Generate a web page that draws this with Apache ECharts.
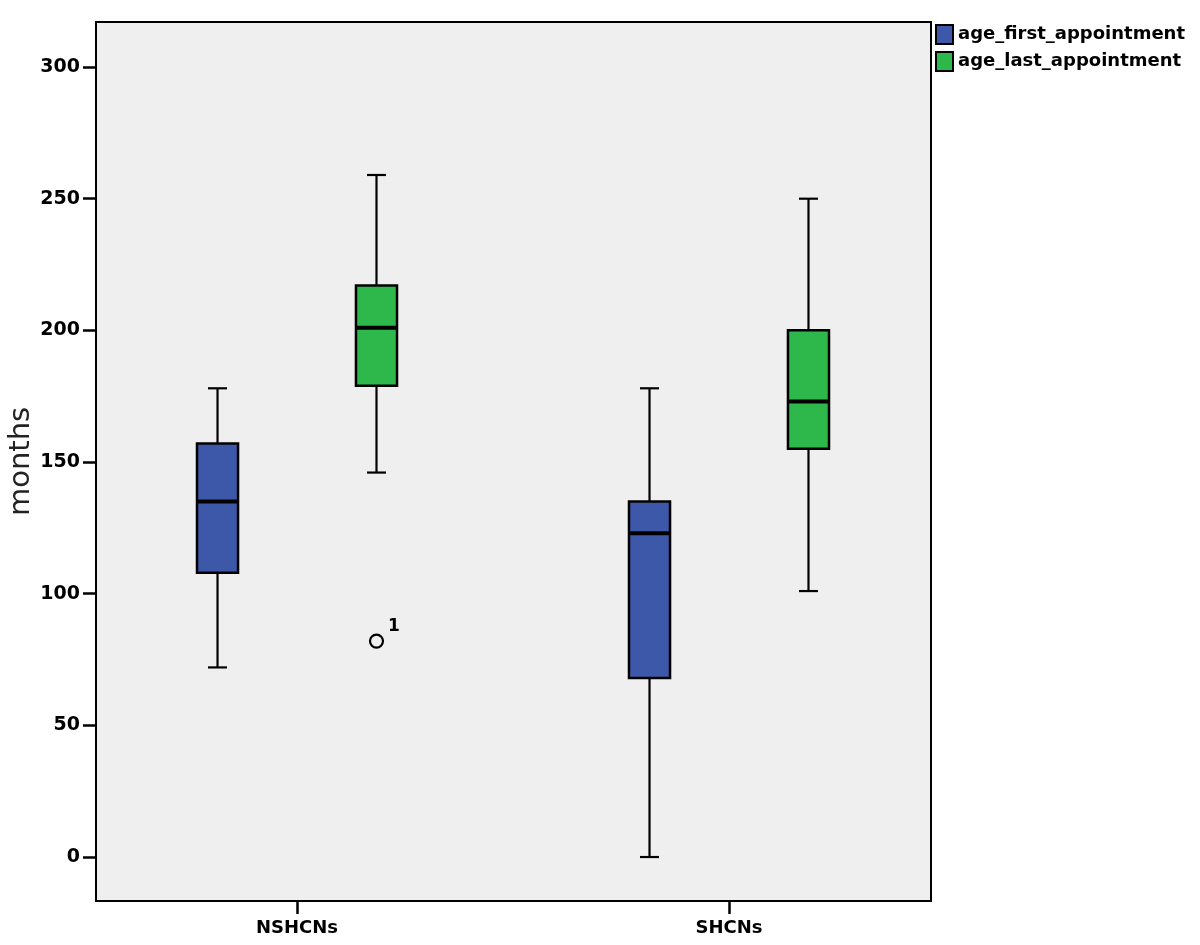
<!DOCTYPE html>
<html><head><meta charset="utf-8">
<script src="https://cdn.jsdelivr.net/npm/echarts@6/dist/echarts.min.js"></script>
<style>html,body{margin:0;padding:0;background:#fff}#chart{width:1200px;height:945px}</style>
</head><body><div id="chart"></div>
<script>
const categories = ['NSHCNs', 'SHCNs'];
const seriesNames = ['age_first_appointment', 'age_last_appointment'];
// [lower whisker, Q1, median, Q3, upper whisker] per category
const firstAppointment = [[72, 108, 135, 157, 178], [0, 68, 123, 135, 178]];
const lastAppointment = [[146, 179, 201, 217, 259], [101, 155, 173, 200, 250]];
// [category index, series index, value, case label]
const outliers = [[0, 1, 82, '1']];
const yTicks = [0, 50, 100, 150, 200, 250, 300];
const yAxisName = 'months';

const colors = ['#3E58A9', '#2EB84B'];
const SERIES_OFFSET = [-0.184, 0.184];
const BOX_HALF = 0.0475;
const CAP_HALF = 0.022;
const FONT = 'DejaVu Sans';

function makeRender(offset, color) {
  return function (params, api) {
    const x = api.value(0) + offset;
    const lo = api.value(1), q1 = api.value(2), med = api.value(3), q3 = api.value(4), hi = api.value(5);
    const tl = api.coord([x - BOX_HALF, q3]);
    const br = api.coord([x + BOX_HALF, q1]);
    const pMed = api.coord([x, med]);
    const pLo = api.coord([x, lo]);
    const pHi = api.coord([x, hi]);
    const capL = api.coord([x - CAP_HALF, lo])[0];
    const capR = api.coord([x + CAP_HALF, lo])[0];
    const ls = { stroke: '#000', lineWidth: 2.2 };
    return {
      type: 'group',
      children: [
        { type: 'line', shape: { x1: pMed[0], y1: pHi[1], x2: pMed[0], y2: tl[1] }, style: ls },
        { type: 'line', shape: { x1: pMed[0], y1: br[1], x2: pMed[0], y2: pLo[1] }, style: ls },
        { type: 'line', shape: { x1: capL, y1: pHi[1], x2: capR, y2: pHi[1] }, style: ls },
        { type: 'line', shape: { x1: capL, y1: pLo[1], x2: capR, y2: pLo[1] }, style: ls },
        { type: 'rect', shape: { x: tl[0], y: tl[1], width: br[0] - tl[0], height: br[1] - tl[1] },
          style: { fill: color, stroke: '#000', lineWidth: 2.5 } },
        { type: 'line', shape: { x1: tl[0], y1: pMed[1], x2: br[0], y2: pMed[1] }, style: { stroke: '#000', lineWidth: 4 } }
      ]
    };
  };
}

const boxSets = [firstAppointment, lastAppointment];
const series = seriesNames.map((name, s) => ({
  name: name,
  type: 'custom',
  itemStyle: { color: colors[s], borderColor: '#000' },
  data: categories.map((c, i) => [i + 1].concat(boxSets[s][i])),
  encode: { x: 0, y: [1, 2, 3, 4, 5] },
  renderItem: makeRender(SERIES_OFFSET[s], colors[s]),
  z: 2
}));
series.push({
  name: 'outliers',
  type: 'scatter',
  symbol: 'circle',
  symbolSize: 13,
  itemStyle: { color: 'rgba(0,0,0,0)', borderColor: '#000', borderWidth: 2.2, opacity: 1 },
  data: outliers.map(o => ({ value: [o[0] + 1 + SERIES_OFFSET[o[1]], o[2]], label: { formatter: o[3] } })),
  label: { show: true, position: 'right', distance: 4, offset: [0, -15], color: '#000', fontFamily: FONT, fontWeight: 'bold', fontSize: 17 },
  emphasis: { disabled: true },
  z: 3
});

const chart = echarts.init(document.getElementById('chart'));
chart.setOption({
  animation: false,
  backgroundColor: '#fff',
  grid: { left: 96, top: 22, right: 269, bottom: 44, outerBoundsMode: 'none', containLabel: false,
    show: true, backgroundColor: '#efefef', borderColor: '#000', borderWidth: 2 },
  legend: {
    data: seriesNames, orient: 'vertical', left: 935, top: 24, icon: 'rect',
    itemWidth: 17, itemHeight: 19, itemGap: 6, padding: 0,
    itemStyle: { borderColor: '#000', borderWidth: 2 },
    textStyle: { fontFamily: FONT, fontWeight: 'bold', fontSize: 18, color: '#000' }
  },
  xAxis: {
    type: 'value', min: 0.5347, max: 2.4676,
    axisLine: { show: false, onZero: false }, splitLine: { show: false },
    axisTick: { show: true, customValues: [1, 2], length: 13, lineStyle: { color: '#000', width: 2.5 } },
    axisLabel: { customValues: [1, 2], margin: 18, formatter: v => categories[Math.round(v) - 1] || '',
      fontFamily: FONT, fontWeight: 'bold', fontSize: 18, color: '#000' }
  },
  yAxis: {
    type: 'value', min: -16.7, max: 317.1,
    name: yAxisName, nameLocation: 'middle', nameGap: 60, nameMoveOverlap: false,
    nameTextStyle: { fontFamily: FONT, fontSize: 29, color: '#222' },
    axisLine: { show: false, onZero: false }, splitLine: { show: false },
    axisTick: { show: true, customValues: yTicks, length: 13, lineStyle: { color: '#000', width: 2.5 } },
    axisLabel: { customValues: yTicks, margin: 16, fontFamily: FONT, fontWeight: 'bold', fontSize: 19, color: '#000' }
  },
  series: series
});
</script></body></html>
